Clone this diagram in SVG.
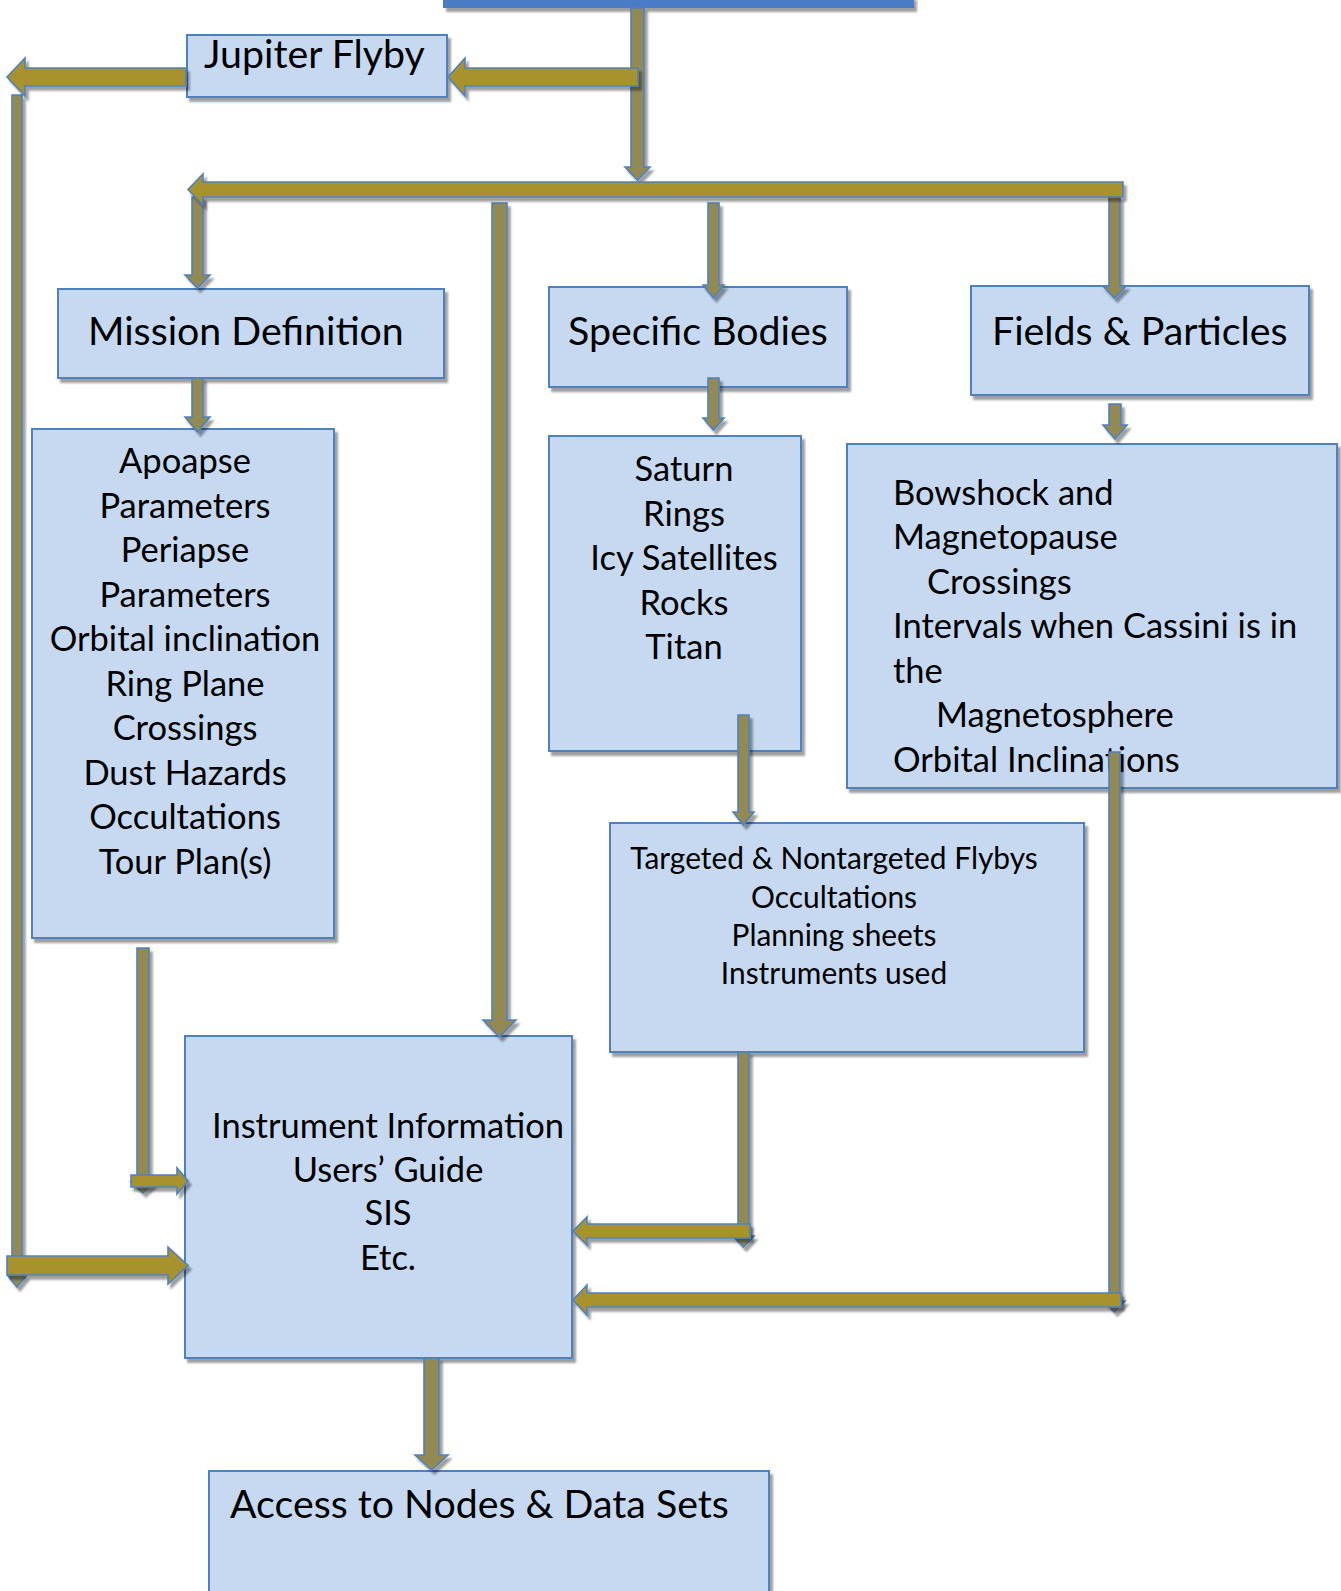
<svg xmlns="http://www.w3.org/2000/svg" width="1341" height="1591" viewBox="0 0 1341 1591">
  <defs>
    <filter id="shadow" filterUnits="userSpaceOnUse" x="-50" y="-50" width="1500" height="1750">
      <feGaussianBlur in="SourceAlpha" stdDeviation="0.8"/>
      <feOffset dx="3" dy="4"/>
      <feComponentTransfer><feFuncA type="linear" slope="0.38"/></feComponentTransfer>
      <feMerge><feMergeNode/><feMergeNode in="SourceGraphic"/></feMerge>
    </filter>
  </defs>
  <style>
    .box { fill: #c6d9f1; stroke: #4f81bd; stroke-width: 2; filter: url(#shadow); }
    .bar { fill: #4a7bc4; filter: url(#shadow); }
    .v { fill: #938953; stroke: #4f81bd; stroke-width: 1.6; stroke-linejoin: miter; filter: url(#shadow); }
    .h { fill: #a8922e; stroke: #4f81bd; stroke-width: 1.6; stroke-linejoin: miter; filter: url(#shadow); }
    text { font-family: Lato, "Open Sans", "Liberation Sans", sans-serif; fill: #000; }
    .head { font-size: 39.3px; }
    .body { font-size: 34.5px; }
    .small { font-size: 29.9px; }
    .mid { text-anchor: middle; }
  </style>
  <rect width="1341" height="1591" fill="#ffffff"/>

  <!-- bottom edge of the parent box, cut by the page -->
  <g id="top-bar">
    <rect class="bar" x="443" y="-4" width="471" height="12"/>
  </g>

  <g id="jupiter-flyby">
    <rect class="box" x="187" y="35" width="260" height="62"/>
    <text class="head" x="204" y="68">Jupiter Flyby</text>
  </g>

  <g id="mission-definition">
    <rect class="box" x="58" y="289" width="386" height="89"/>
    <text class="head" x="88" y="345">Mission Definition</text>
  </g>

  <g id="specific-bodies">
    <rect class="box" x="549" y="287" width="298" height="100"/>
    <text class="head" x="568" y="345">Specific Bodies</text>
  </g>

  <g id="fields-particles">
    <rect class="box" x="971" y="286" width="338" height="109"/>
    <text class="head" x="992" y="345">Fields &amp; Particles</text>
  </g>

  <g id="mission-items">
    <rect class="box" x="32" y="429" width="302" height="509"/>
    <text class="body mid" x="185" y="473">Apoapse</text>
    <text class="body mid" x="185" y="518">Parameters</text>
    <text class="body mid" x="185" y="562">Periapse</text>
    <text class="body mid" x="185" y="607">Parameters</text>
    <text class="body mid" x="185" y="651">Orbital inclination</text>
    <text class="body mid" x="185" y="696">Ring Plane</text>
    <text class="body mid" x="185" y="740">Crossings</text>
    <text class="body mid" x="185" y="785">Dust Hazards</text>
    <text class="body mid" x="185" y="829">Occultations</text>
    <text class="body mid" x="185" y="874">Tour Plan(s)</text>
  </g>

  <g id="bodies-list">
    <rect class="box" x="549" y="436" width="252" height="315"/>
    <text class="body mid" x="684" y="481">Saturn</text>
    <text class="body mid" x="684" y="526">Rings</text>
    <text class="body mid" x="684" y="570">Icy Satellites</text>
    <text class="body mid" x="684" y="615">Rocks</text>
    <text class="body mid" x="684" y="659">Titan</text>
  </g>

  <g id="fields-items">
    <rect class="box" x="847" y="444" width="490" height="344"/>
    <text class="body" x="893" y="505">Bowshock and</text>
    <text class="body" x="893" y="549">Magnetopause</text>
    <text class="body" x="927" y="594">Crossings</text>
    <text class="body" x="893" y="638">Intervals when Cassini is in</text>
    <text class="body" x="893" y="683">the</text>
    <text class="body" x="936" y="727">Magnetosphere</text>
    <text class="body" x="893" y="772">Orbital Inclinations</text>
  </g>

  <g id="flybys">
    <rect class="box" x="610" y="823" width="474" height="229"/>
    <text class="small mid" x="834" y="869">Targeted &amp; Nontargeted Flybys</text>
    <text class="small mid" x="834" y="908">Occultations</text>
    <text class="small mid" x="834" y="946">Planning sheets</text>
    <text class="small mid" x="834" y="984">Instruments used</text>
  </g>

  <g id="instrument-information">
    <rect class="box" x="185" y="1036" width="387" height="322"/>
    <text class="body mid" x="388" y="1138">Instrument Information</text>
    <text class="body mid" x="388" y="1182">Users’ Guide</text>
    <text class="body mid" x="388" y="1225">SIS</text>
    <text class="body mid" x="388" y="1270">Etc.</text>
  </g>

  <g id="access-nodes">
    <rect class="box" x="209" y="1471" width="560" height="140"/>
    <text class="head" x="230" y="1518">Access to Nodes &amp; Data Sets</text>
  </g>

  <g id="connectors">
    <!-- vertical shafts -->
    <path class="v" d="M631,8 L644,8 L644,167 L650,167 L637.5,180 L625,167 L631,167 Z"/>
    <path class="v" d="M12,95 L22,95 L22,1276 L26,1276 L17,1287 L8,1276 L12,1276 Z"/>
    <path class="v" d="M192,197 L203,197 L203,275 L210,275 L197.5,288 L185,275 L192,275 Z"/>
    <path class="v" d="M492,203 L507,203 L507,1020 L516,1020 L499.5,1037 L483,1020 L492,1020 Z"/>
    <path class="v" d="M708,203 L719,203 L719,285 L724,285 L713.5,298 L703,285 L708,285 Z"/>
    <path class="v" d="M1109,197 L1120,197 L1120,286 L1126,286 L1114.5,298 L1103,286 L1109,286 Z"/>
    <path class="v" d="M192,378 L203,378 L203,417 L210,417 L197.5,432 L185,417 L192,417 Z"/>
    <path class="v" d="M708,378 L719,378 L719,418 L724,418 L713.5,430 L703,418 L708,418 Z"/>
    <path class="v" d="M1109,404 L1121,404 L1121,425 L1127,425 L1115,439 L1103,425 L1109,425 Z"/>
    <path class="v" d="M738,715 L749,715 L749,812 L754,812 L743.5,825 L733,812 L738,812 Z"/>
    <path class="v" d="M137,948 L149,948 L149,1182 L155,1182 L143,1193 L131,1182 L137,1182 Z"/>
    <path class="v" d="M738,1052 L749,1052 L749,1236 L754,1236 L743.5,1247 L733,1236 L738,1236 Z"/>
    <path class="v" d="M1109,752 L1120,752 L1120,1301 L1125,1301 L1114.5,1312 L1104,1301 L1109,1301 Z"/>
    <path class="v" d="M424,1358 L439,1358 L439,1455 L448,1455 L431.5,1470 L415,1455 L424,1455 Z"/>
    <!-- horizontal block arrows -->
    <path class="h" d="M638,68 L465,68 L465,58 L448,77 L465,96 L465,86 L638,86 Z"/>
    <path class="h" d="M186,68 L25,68 L25,58 L7,77 L25,96 L25,86 L186,86 Z"/>
    <path class="h" d="M1123,182 L203,182 L203,174 L188,189.5 L203,205 L203,197 L1123,197 Z"/>
    <path class="h" d="M131,1175 L177,1175 L177,1168 L188,1181 L177,1194 L177,1187 L131,1187 Z"/>
    <path class="h" d="M7,1256 L168,1256 L168,1247 L188,1265.5 L168,1284 L168,1275 L7,1275 Z"/>
    <path class="h" d="M750,1224 L587,1224 L587,1217 L573,1231 L587,1245 L587,1238 L750,1238 Z"/>
    <path class="h" d="M1121,1293 L587,1293 L587,1285 L573,1300 L587,1315 L587,1307 L1121,1307 Z"/>
  </g>
</svg>
